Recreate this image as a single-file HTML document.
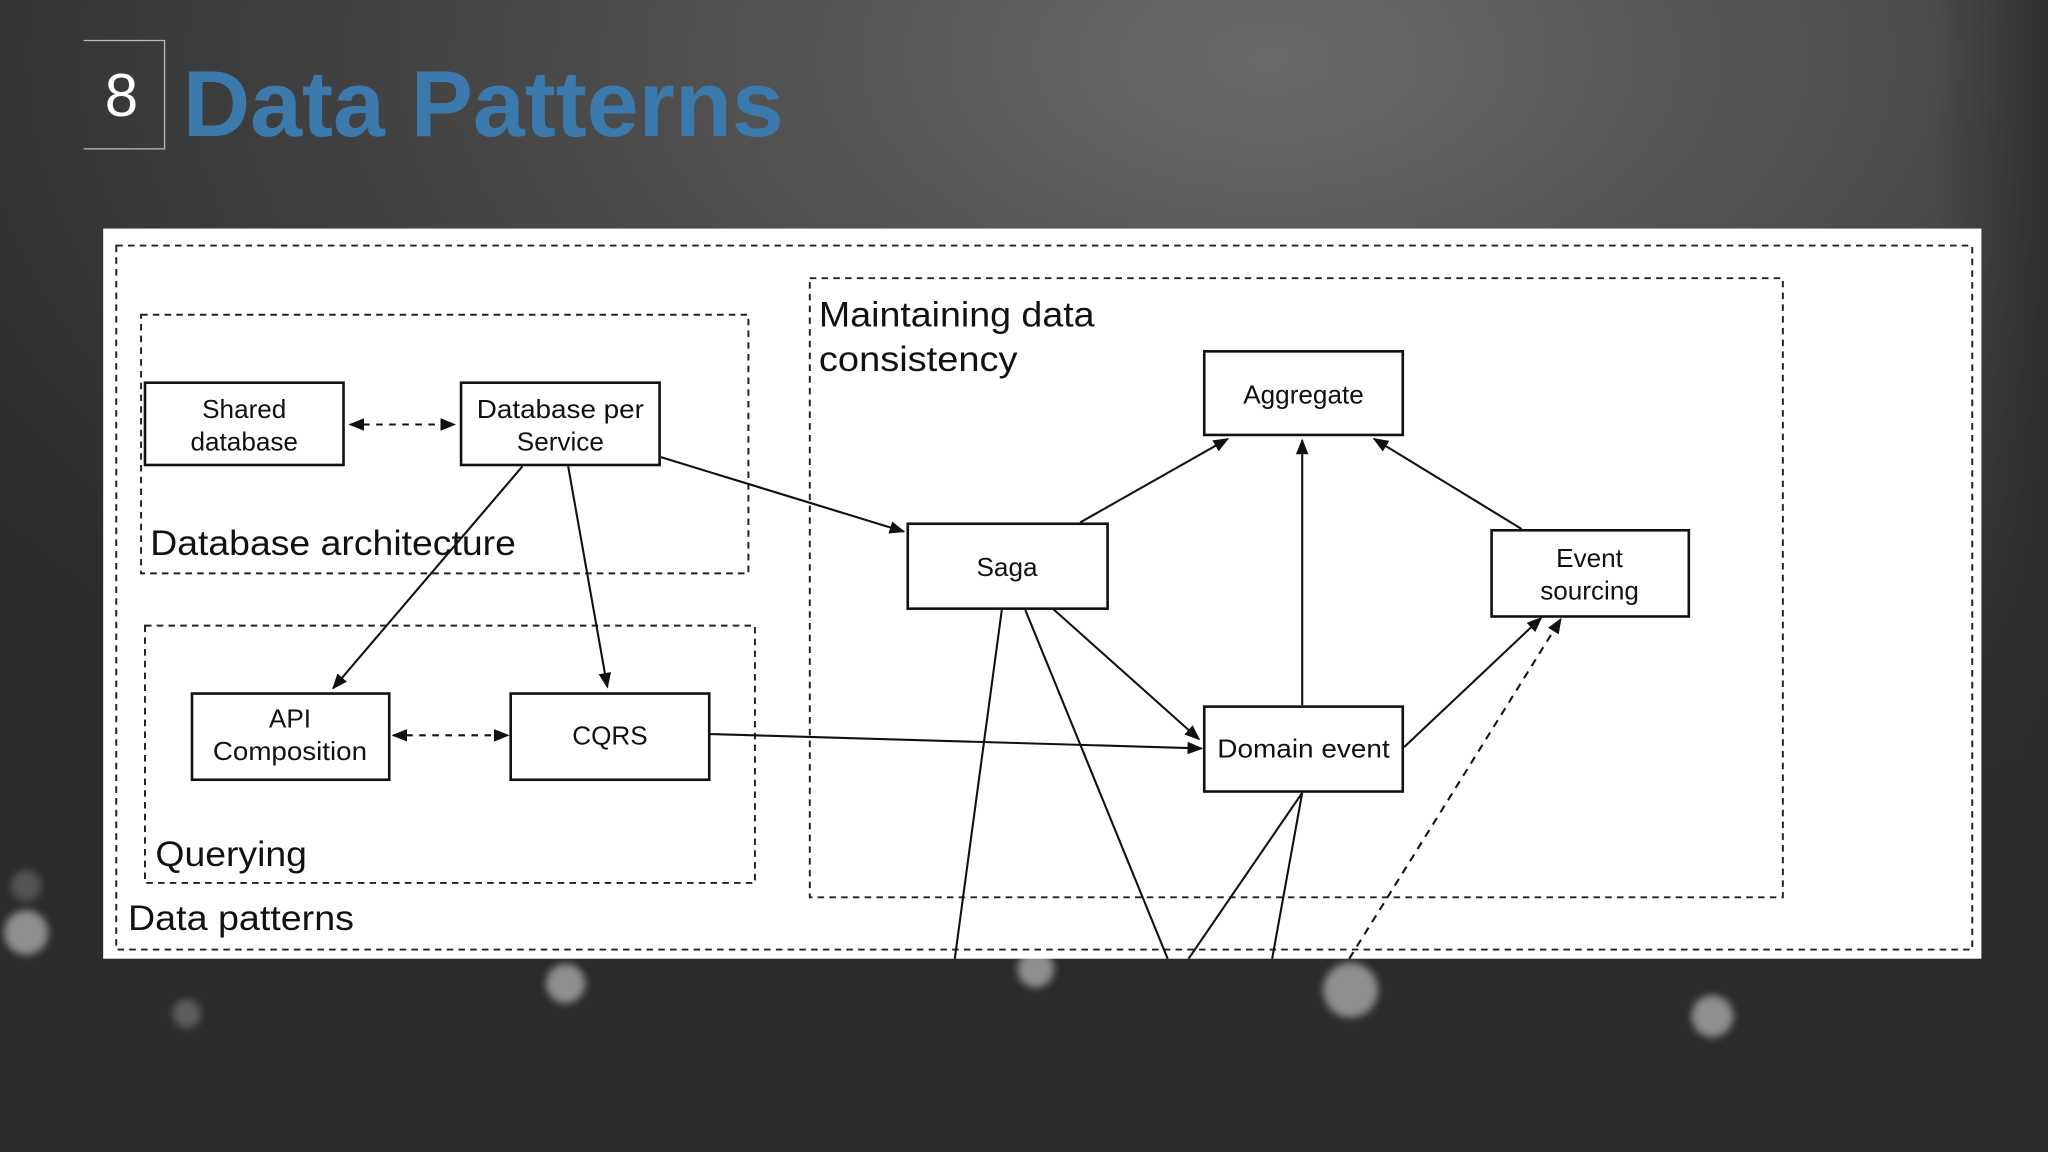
<!DOCTYPE html>
<html><head><meta charset="utf-8"><style>
html,body{margin:0;padding:0;width:2048px;height:1152px;overflow:hidden;background:#2c2c2c}
svg{display:block}
</style></head><body>
<svg width="2048" height="1152" viewBox="0 0 1568 882" xmlns="http://www.w3.org/2000/svg" font-family="'Liberation Sans', sans-serif">
<defs>
<radialGradient id="bg" cx="0.62" cy="0.05" r="0.75">
<stop offset="0" stop-color="#6a6a6a"/><stop offset="0.45" stop-color="#4a4a4a"/><stop offset="1" stop-color="#2a2a2a"/>
</radialGradient>
<linearGradient id="vg" x1="0" y1="0" x2="0" y2="1"><stop offset="0.5" stop-color="#2b2b2b" stop-opacity="0"/><stop offset="0.85" stop-color="#2b2b2b" stop-opacity="0.9"/><stop offset="1" stop-color="#2b2b2b"/></linearGradient>
<linearGradient id="rg" x1="0" y1="0" x2="1" y2="0"><stop offset="0" stop-color="#2a2a2a" stop-opacity="0"/><stop offset="1" stop-color="#2a2a2a" stop-opacity="0.8"/></linearGradient>
<filter id="bl"><feGaussianBlur stdDeviation="3"/></filter>
<marker id="ah" viewBox="0 0 10 10" refX="9" refY="5" markerWidth="12" markerHeight="12" orient="auto-start-reverse" markerUnits="userSpaceOnUse"><path d="M0,1 L10,5 L0,9 z" fill="#111"/></marker>
</defs>
<rect width="1568" height="882" fill="url(#bg)"/>
<rect width="1568" height="882" fill="url(#vg)"/>
<rect x="1480" y="0" width="88" height="882" fill="url(#rg)"/>
<g filter="url(#bl)" fill="#bbb" opacity="0.7">
<circle cx="433" cy="753" r="15"/><circle cx="1034" cy="758" r="21"/><circle cx="1311" cy="778" r="16"/>
<circle cx="20" cy="714" r="17"/><circle cx="793" cy="742" r="14"/><circle cx="143" cy="776" r="11" opacity="0.5"/>
<circle cx="20" cy="678" r="12" opacity="0.4"/>
</g>
<!-- title -->
<path d="M64,31 H126 V114 H64" fill="none" stroke="#bbb" stroke-width="1"/>
<text x="93" y="89" fill="#fff" font-size="46" text-anchor="middle">8</text>
<text x="140" y="104" fill="#3c7aae" font-size="72" font-weight="bold" textLength="460" lengthAdjust="spacingAndGlyphs">Data Patterns</text>
<!-- panel -->
<rect x="79" y="175" width="1438" height="559" fill="#fff"/>
<g fill="none" stroke="#222" stroke-width="1.5" stroke-dasharray="5,4">
<rect x="89" y="188" width="1421" height="539"/>
<rect x="108" y="241" width="465" height="198"/>
<rect x="111" y="479" width="467" height="197"/>
<rect x="620" y="213" width="745" height="474"/>
</g>
<g font-size="27" fill="#111">
<text x="115" y="425" textLength="280" lengthAdjust="spacingAndGlyphs">Database architecture</text>
<text x="119" y="663" textLength="116" lengthAdjust="spacingAndGlyphs">Querying</text>
<text x="98" y="712" textLength="173" lengthAdjust="spacingAndGlyphs">Data patterns</text>
<text x="627" y="250" textLength="211" lengthAdjust="spacingAndGlyphs">Maintaining data</text>
<text x="627" y="284" textLength="152" lengthAdjust="spacingAndGlyphs">consistency</text>
</g>
<!-- boxes -->
<g fill="#fff" stroke="#111" stroke-width="2">
<rect x="111" y="293" width="152" height="63"/>
<rect x="353" y="293" width="152" height="63"/>
<rect x="147" y="531" width="151" height="66"/>
<rect x="391" y="531" width="152" height="66"/>
<rect x="695" y="401" width="153" height="65"/>
<rect x="922" y="269" width="152" height="64"/>
<rect x="1142" y="406" width="151" height="66"/>
<rect x="922" y="541" width="152" height="65"/>
</g>
<g font-size="20" fill="#111" text-anchor="middle">
<text x="187" y="320">Shared</text><text x="187" y="345">database</text>
<text x="429" y="320" textLength="128" lengthAdjust="spacingAndGlyphs">Database per</text><text x="429" y="345">Service</text>
<text x="222" y="557">API</text><text x="222" y="582" textLength="118" lengthAdjust="spacingAndGlyphs">Composition</text>
<text x="467" y="570">CQRS</text>
<text x="771" y="441">Saga</text>
<text x="998" y="309">Aggregate</text>
<text x="1217" y="434">Event</text><text x="1217" y="459">sourcing</text>
<text x="998" y="580" textLength="132" lengthAdjust="spacingAndGlyphs">Domain event</text>
</g>
<!-- connectors -->
<g stroke="#111" stroke-width="1.6" fill="none">
<line x1="268" y1="325" x2="348" y2="325" stroke-dasharray="5,5" marker-start="url(#ah)" marker-end="url(#ah)"/>
<line x1="301" y1="563" x2="389" y2="563" stroke-dasharray="5,5" marker-start="url(#ah)" marker-end="url(#ah)"/>
<line x1="400" y1="357" x2="255" y2="527" marker-end="url(#ah)"/>
<line x1="435" y1="357" x2="465" y2="526" marker-end="url(#ah)"/>
<line x1="506" y1="350" x2="692" y2="407" marker-end="url(#ah)"/>
<line x1="543" y1="562" x2="920" y2="573" marker-end="url(#ah)"/>
<line x1="827" y1="400" x2="940" y2="336" marker-end="url(#ah)"/>
<line x1="997" y1="540" x2="997" y2="337" marker-end="url(#ah)"/>
<line x1="1165" y1="405" x2="1052" y2="336" marker-end="url(#ah)"/>
<line x1="806" y1="466" x2="918" y2="566" marker-end="url(#ah)"/>
<line x1="1075" y1="572" x2="1180" y2="473" marker-end="url(#ah)"/>
<line x1="1033" y1="734" x2="1195" y2="474" stroke-dasharray="6,5" marker-end="url(#ah)"/>
<line x1="767" y1="467" x2="731" y2="734"/>
<line x1="785" y1="467" x2="894" y2="734"/>
<line x1="997" y1="607" x2="910" y2="734"/>
<line x1="997" y1="607" x2="974" y2="734"/>
</g>
</svg>
</body></html>
